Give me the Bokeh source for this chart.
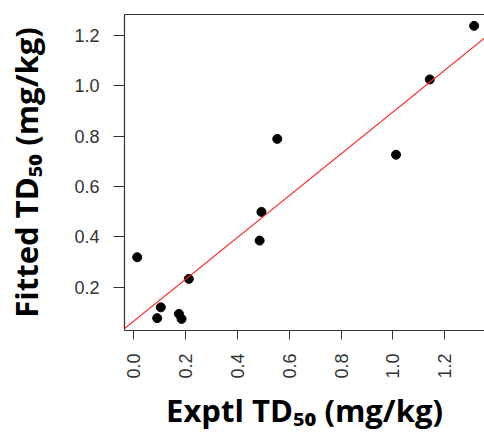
import math
from bokeh.plotting import figure
from bokeh.models import FixedTicker, NumeralTickFormatter, Range1d, Slope, LinearAxis
from bokeh.embed import file_html
from bokeh.resources import INLINE

# Data
exptl_td50 = [0.014, 0.091, 0.105, 0.175, 0.185, 0.213, 0.486, 0.493, 0.554, 1.012, 1.142, 1.313]
fitted_td50 = [0.319, 0.077, 0.120, 0.094, 0.074, 0.233, 0.385, 0.499, 0.789, 0.726, 1.025, 1.238]
fit_slope = 0.831
fit_intercept = 0.065
x_ticks = [0.0, 0.2, 0.4, 0.6, 0.8, 1.0, 1.2]
y_ticks = [0.2, 0.4, 0.6, 0.8, 1.0, 1.2]

p = figure(width=484, height=435, output_backend="svg", toolbar_location=None,
           x_range=Range1d(-0.035, 1.353), y_range=Range1d(0.028, 1.283),
           min_border_left=124, min_border_right=0, min_border_top=14, min_border_bottom=105)

p.scatter(exptl_td50, fitted_td50, size=9, color="black")
p.add_layout(Slope(gradient=fit_slope, y_intercept=fit_intercept, line_color="#ff2a2a", line_width=1.2))

p.xgrid.visible = False
p.ygrid.visible = False
p.outline_line_color = None

xax = p.below[0]
yax = p.left[0]

label_font = "'Open Sans', 'Noto Sans', sans-serif"
for ax in (xax, yax):
    ax.minor_tick_line_color = None
    ax.axis_line_color = "#333333"
    ax.axis_line_width = 1.2
    ax.major_tick_line_color = "#333333"
    ax.major_tick_in = 0
    ax.major_label_text_font = "Liberation Sans"
    ax.major_label_text_font_size = "18px"
    ax.major_label_text_color = "#333333"
    ax.formatter = NumeralTickFormatter(format="0.0")
    ax.axis_label_text_font = label_font
    ax.axis_label_text_font_style = "bold"
    ax.axis_label_text_font_size = "31px"
    ax.axis_label_text_color = "black"

xax.ticker = FixedTicker(ticks=x_ticks)
yax.ticker = FixedTicker(ticks=y_ticks)
xax.major_tick_out = 9
yax.major_tick_out = 11
xax.major_label_standoff = 14
yax.major_label_standoff = 14
xax.major_label_orientation = math.pi / 2
xax.axis_label = "Exptl TD\u2085\u2080 (mg/kg)"
yax.axis_label = "Fitted TD\u2085\u2080 (mg/kg)"
xax.axis_label_standoff = 7
yax.axis_label_standoff = 24

# top border line only (right side is cut off in the reference)
top = LinearAxis(ticker=FixedTicker(ticks=[]), axis_line_color="#333333", axis_line_width=1.2,
                 major_tick_line_color=None, minor_tick_line_color=None,
                 major_label_text_font_size="0px")
p.add_layout(top, "above")

open("out.html", "w").write(file_html(p, INLINE))
